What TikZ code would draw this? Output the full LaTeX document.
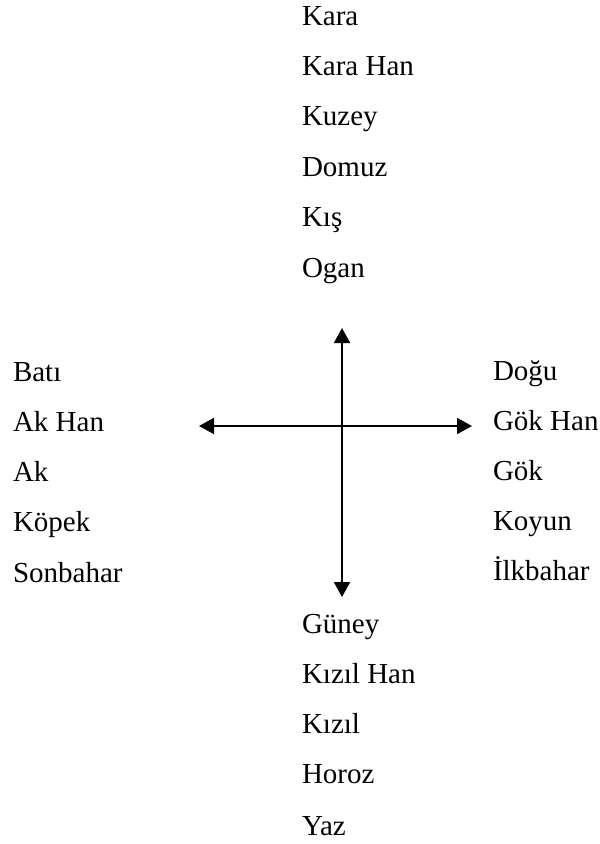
\documentclass[tikz,border=0pt]{standalone}
\usepackage{fontspec}
\setmainfont{Liberation Serif}
\usetikzlibrary{arrows.meta}
\begin{document}
\begin{tikzpicture}[x=0.5pt,y=-0.5pt,
  lbl/.style={anchor=base west,inner sep=0pt,outer sep=0pt,font=\fontsize{14.5}{17}\selectfont},
  axis/.style={line width=1pt,{Triangle[length=7.5pt,width=8pt]}-{Triangle[length=7.5pt,width=8pt]}}]
\useasboundingbox (0,0) rectangle (599,844);
% top column
\node[lbl] (t1) at (302,26) {Kara};
\node[lbl] (t2) at (302,76) {Kara Han};
\node[lbl] (t3) at (302,126) {Kuzey};
\node[lbl] (t4) at (302,177) {Domuz};
\node[lbl] (t5) at (302,227) {Kış};
\node[lbl] (t6) at (302,278) {Ogan};
% left column
\node[lbl] (l1) at (13,381) {Batı};
\node[lbl] (l2) at (13,431) {Ak Han};
\node[lbl] (l3) at (13,481) {Ak};
\node[lbl] (l4) at (13,531) {Köpek};
\node[lbl] (l5) at (13,582) {Sonbahar};
% right column
\node[lbl] (r1) at (493,380) {Doğu};
\node[lbl] (r2) at (493,430) {Gök Han};
\node[lbl] (r3) at (493,480) {Gök};
\node[lbl] (r4) at (493,530) {Koyun};
\node[lbl] (r5) at (493,580) {İlkbahar};
% bottom column
\node[lbl] (b1) at (302,633) {Güney};
\node[lbl] (b2) at (302,683) {Kızıl Han};
\node[lbl] (b3) at (302,733) {Kızıl};
\node[lbl] (b4) at (302,783) {Horoz};
\node[lbl] (b5) at (302,835) {Yaz};
% axes
\coordinate (c) at (342,426);
\coordinate (n) at (342,328);
\coordinate (s) at (342,597);
\coordinate (w) at (199,426);
\coordinate (e) at (472,426);
\draw[axis] (w) -- (e);
\draw[axis] (n) -- (s);
\end{tikzpicture}
\end{document}
